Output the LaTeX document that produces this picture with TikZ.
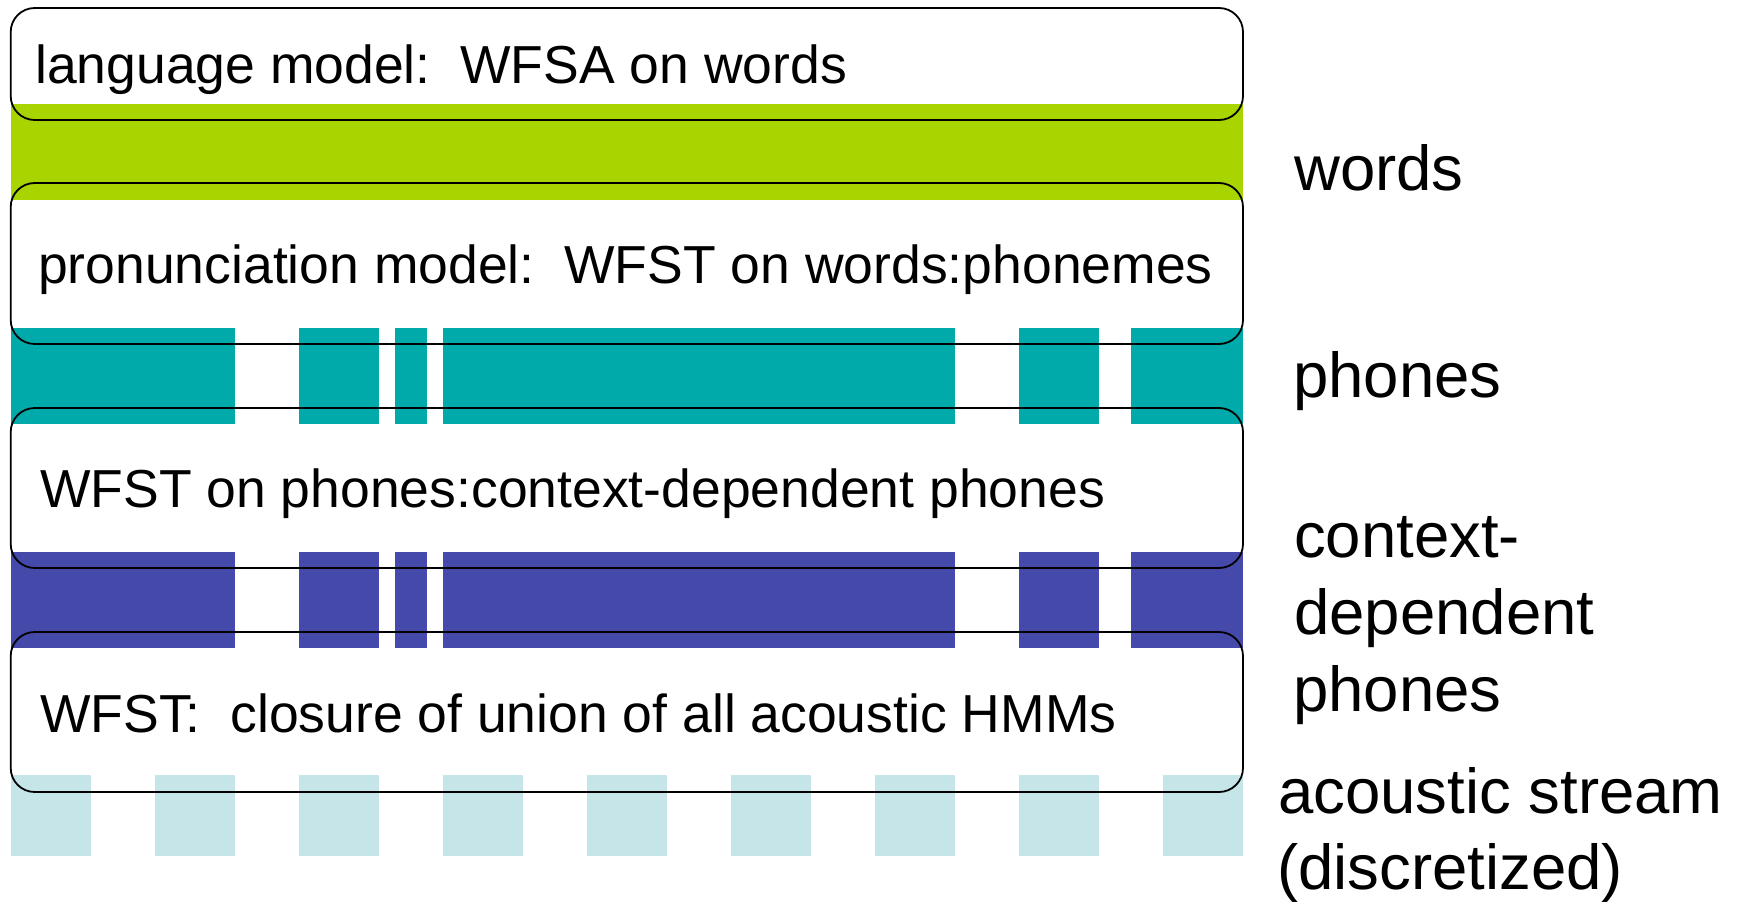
\documentclass[tikz,border=0pt]{standalone}
\usepackage{fontspec}
\setmainfont{Liberation Sans}
\definecolor{cgreen}{RGB}{168,212,0}
\definecolor{cteal}{RGB}{0,169,170}
\definecolor{cblue}{RGB}{69,73,170}
\definecolor{clight}{RGB}{197,229,232}
\begin{document}
\begin{tikzpicture}[x=1pt,y=-1pt,
  stage/.style={draw=black, line width=1.8pt, rounded corners=24pt, minimum width=1232.3pt, inner sep=0pt},
  stagetext/.style={anchor=base west, inner sep=0pt, font=\fontsize{53.5}{60}\selectfont},
  lbl/.style={anchor=base west, inner sep=0pt, font=\fontsize{63.5}{76}\selectfont}]
\useasboundingbox (0,0) rectangle (1741,902);
% bands
\fill[cgreen] (11,104) rectangle (1243,200);
\foreach \a/\b in {11/235,299/379,395/427,443/955,1019/1099,1131/1243}{
  \fill[cteal] (\a,328) rectangle (\b,424);
  \fill[cblue] (\a,552) rectangle (\b,648);
}
\foreach \k in {0,...,8}{
  \fill[clight] ({11+144*\k},775) rectangle ({91+144*\k},856);
}
% boxes
\node[stage, minimum height=112pt] (lm) at (626.85,64) {};
\node[stage, minimum height=161pt] (pm) at (626.85,263.5) {};
\node[stage, minimum height=160pt] (cd) at (626.85,488) {};
\node[stage, minimum height=160pt] (hmm) at (626.85,712) {};
% box texts
\node[stagetext] (lmt) at (35,83) {language model:~~WFSA on words};
\node[stagetext] (pmt) at (38,283) {pronunciation model:~~WFST on words:phonemes};
\node[stagetext] (cdt) at (40,507) {WFST on phones:context-dependent phones};
\node[stagetext] (hmmt) at (40,732) {WFST:~~closure of union of all acoustic HMMs};
% labels
\node[lbl] (lw) at (1294,190) {words};
\node[lbl] (lp) at (1293,397) {phones};
\node[lbl] (lc1) at (1294,557) {context-};
\node[lbl] (lc2) at (1294,634) {dependent};
\node[lbl] (lc3) at (1293,711) {phones};
\node[lbl] (la1) at (1278,813) {acoustic stream};
\node[lbl] (la2) at (1277,889) {(discretized)};
\end{tikzpicture}
\end{document}
